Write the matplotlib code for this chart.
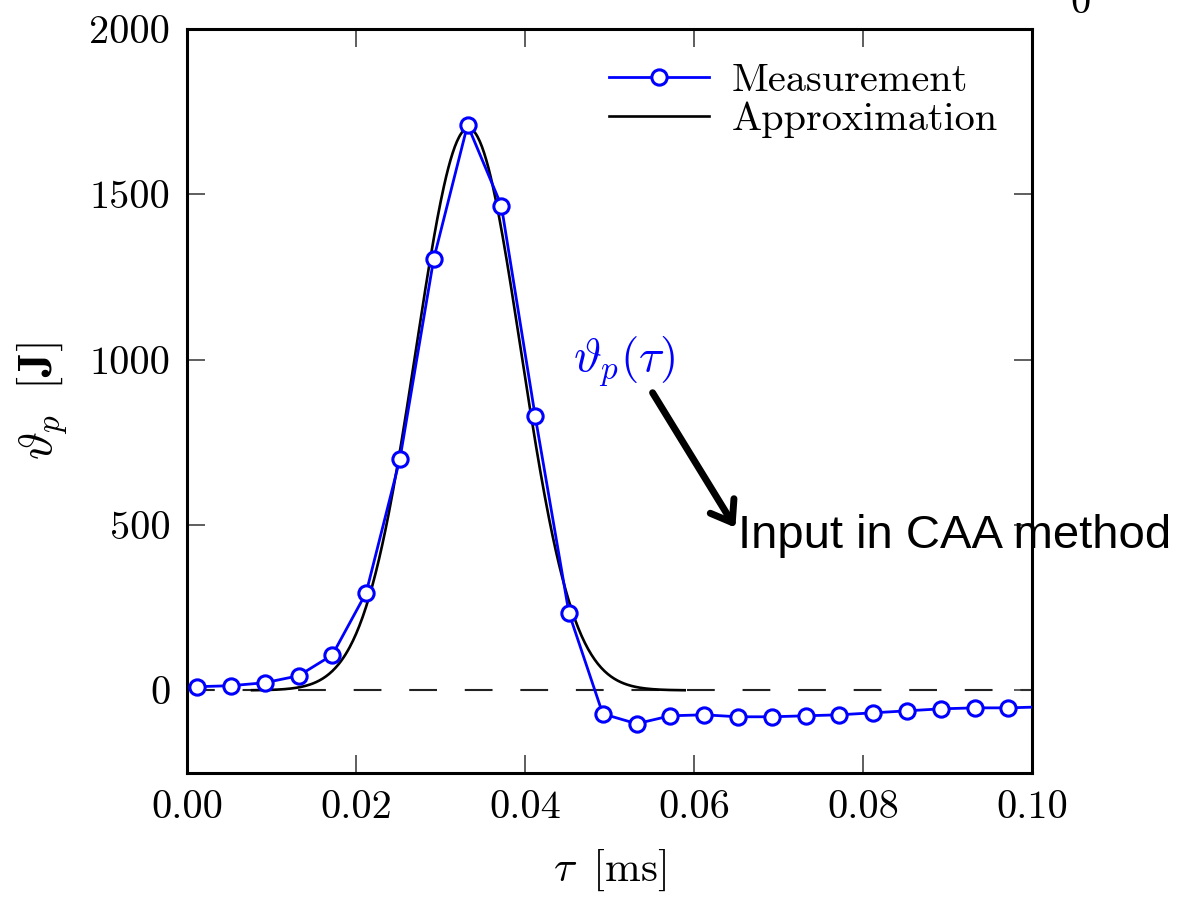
import numpy as np
import matplotlib
matplotlib.use("Agg")
import matplotlib.pyplot as plt

# ---------------- data ----------------
tau_ms = [0.0012, 0.0052, 0.0092, 0.0132, 0.0172, 0.0212, 0.0252, 0.0292,
          0.0332, 0.0372, 0.0412, 0.0452, 0.0492, 0.0532, 0.0572, 0.0612,
          0.0652, 0.0692, 0.0732, 0.0772, 0.0812, 0.0852, 0.0892, 0.0932,
          0.0972, 0.1012]
measurement = [11, 14, 23, 44, 107, 295, 700, 1305, 1710, 1466, 830, 234,
               -71, -101, -77, -74, -80, -80, -77, -74, -68, -62, -56, -53,
               -53, -50]

# Gaussian approximation parameters
approx_peak = 1700.0
approx_center = 0.0333
approx_sigma = 0.0062
approx_halfspan = 0.0256

xticks = [0.00, 0.02, 0.04, 0.06, 0.08, 0.10]
xticklabels = ["0.00", "0.02", "0.04", "0.06", "0.08", "0.10"]
yticks = [0, 500, 1000, 1500, 2000]
yticklabels = ["0", "500", "1000", "1500", "2000"]

# ---------------- style ----------------
plt.rcParams['font.family'] = 'serif'
plt.rcParams['font.serif'] = ['cmr10']
plt.rcParams['mathtext.fontset'] = 'cm'
plt.rcParams['axes.formatter.use_mathtext'] = True
plt.rcParams['lines.scale_dashes'] = False

W, H = 1182, 897
fig = plt.figure(figsize=(W / 100, H / 100), dpi=100)
ax = fig.add_axes([187 / W, 1 - 773 / H, (1032 - 187) / W, (773 - 29) / H])

# zero line
ax.axhline(0, color='#222222', lw=1.5, linestyle=(0, (20, 20)), zorder=1)

# approximation curve
xa = np.linspace(approx_center - approx_halfspan, approx_center + approx_halfspan, 400)
ya = approx_peak * np.exp(-(xa - approx_center) ** 2 / (2 * approx_sigma ** 2))
ax.plot(xa, ya, color='black', lw=1.9, zorder=2, label='Approximation')

# measurement
ax.plot(tau_ms, measurement, color='#0000ff', lw=2.0, marker='o', markersize=11,
        markerfacecolor='white', markeredgecolor='#0000ff', markeredgewidth=2.2,
        zorder=3, label='Measurement')

ax.set_xlim(0, 0.10)
ax.set_ylim(-250, 2000)
ax.set_xticks(xticks)
ax.set_xticklabels(xticklabels)
ax.set_yticks(yticks)
ax.set_yticklabels(yticklabels)
ax.tick_params(direction='in', length=13, width=1.1, color='#333333',
               top=True, right=True, labelsize=29, pad=12)
for s in ax.spines.values():
    s.set_linewidth(2.2)

ax.set_xlabel(r'$\tau\;\;[\mathrm{ms}]$', fontsize=31, labelpad=16)
ax.set_ylabel(r'$\vartheta_p\;\;[\mathbf{J}]$', fontsize=34, labelpad=14)

handles, labels = ax.get_legend_handles_labels()
leg = ax.legend(handles[::-1], labels[::-1], loc='upper right', frameon=False,
                fontsize=29, handlelength=2.5, handletextpad=0.55,
                labelspacing=0.05, borderaxespad=0.45)

# annotation
ax.text(0.0517, 994, r'$\vartheta_p(\tau)$', color='#0000ff', fontsize=34,
        ha='center', va='center')
ax.annotate('', xy=(0.0649, 492), xytext=(0.0551, 900),
            arrowprops=dict(arrowstyle='->,head_length=0.35,head_width=0.25',
                            lw=5, color='black', mutation_scale=40,
                            shrinkA=0, shrinkB=0))
ax.text(0.0652, 431, 'Input in CAA method', family='Liberation Sans',
        fontsize=34, ha='left', va='baseline', color='black', clip_on=False)

# stray label fragment at top right (cut by the top edge, as in the reference)
fig.text(1080 / W, 1 - 13 / H, '0', fontsize=29, ha='center', va='baseline')

fig.savefig('out.png', dpi=100)
